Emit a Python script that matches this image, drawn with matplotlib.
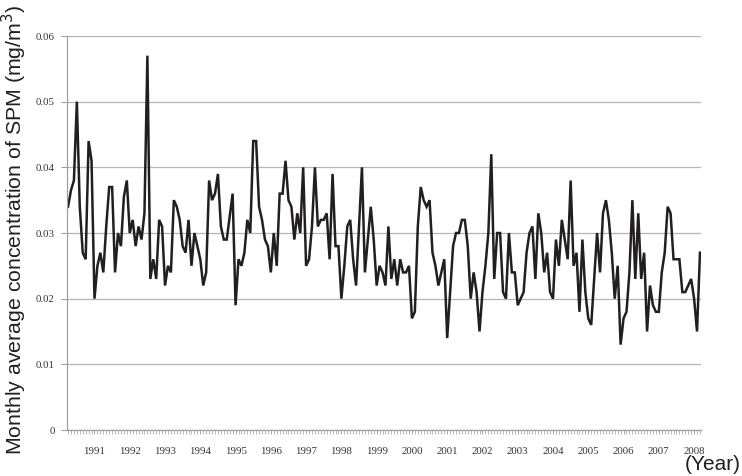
import matplotlib
matplotlib.use("Agg")
import matplotlib.pyplot as plt
import numpy as np

# Monthly SPM concentration (mg/m3), April 1990 - March 2008
spm = [
    0.034, 0.0365, 0.038, 0.050, 0.034, 0.027, 0.026, 0.044, 0.041, 0.020,
    0.025, 0.027, 0.024, 0.031, 0.037, 0.037, 0.024, 0.030, 0.028, 0.0355,
    0.038, 0.030, 0.032, 0.028, 0.031, 0.029, 0.033, 0.057, 0.023, 0.026,
    0.023, 0.032, 0.031, 0.022, 0.025, 0.024, 0.035, 0.034, 0.032, 0.028,
    0.027, 0.032, 0.025, 0.030, 0.028, 0.026, 0.022, 0.024, 0.038, 0.035,
    0.036, 0.039, 0.031, 0.029, 0.029, 0.0325, 0.036, 0.019, 0.026, 0.025,
    0.027, 0.032, 0.030, 0.044, 0.044, 0.034, 0.032, 0.029, 0.028, 0.024,
    0.030, 0.025, 0.036, 0.036, 0.041, 0.035, 0.034, 0.029, 0.033, 0.030,
    0.040, 0.025, 0.026, 0.031, 0.040, 0.031, 0.032, 0.032, 0.033, 0.026,
    0.039, 0.028, 0.028, 0.020, 0.025, 0.031, 0.032, 0.026, 0.022, 0.031,
    0.040, 0.024, 0.029, 0.034, 0.029, 0.022, 0.025, 0.024, 0.022, 0.031,
    0.023, 0.026, 0.022, 0.026, 0.024, 0.024, 0.025, 0.017, 0.018, 0.031,
    0.037, 0.035, 0.034, 0.035, 0.027, 0.025, 0.022, 0.024, 0.026, 0.014,
    0.021, 0.028, 0.030, 0.030, 0.032, 0.032, 0.028, 0.020, 0.024, 0.021,
    0.015, 0.021, 0.025, 0.030, 0.042, 0.023, 0.030, 0.030, 0.021, 0.020,
    0.030, 0.024, 0.024, 0.019, 0.020, 0.021, 0.027, 0.030, 0.031, 0.023,
    0.033, 0.030, 0.024, 0.027, 0.021, 0.020, 0.029, 0.025, 0.032, 0.029,
    0.026, 0.038, 0.025, 0.027, 0.018, 0.029, 0.021, 0.017, 0.016, 0.023,
    0.030, 0.024, 0.033, 0.035, 0.032, 0.027, 0.020, 0.025, 0.013, 0.017,
    0.018, 0.024, 0.035, 0.023, 0.033, 0.023, 0.027, 0.015, 0.022, 0.019,
    0.018, 0.018, 0.024, 0.027, 0.034, 0.033, 0.026, 0.026, 0.026, 0.021,
    0.021, 0.022, 0.023, 0.020, 0.015, 0.027,
]
years = [str(y) for y in range(1991, 2009)]
first_jan_index = 9  # January 1991 is the 10th month (data begins April 1990)
y_ticks = [0, 0.01, 0.02, 0.03, 0.04, 0.05, 0.06]
y_tick_labels = ["0", "0.01", "0.02", "0.03", "0.04", "0.05", "0.06"]

fig = plt.figure(figsize=(7.42, 4.76), dpi=100)
ax = fig.add_axes([67/742, 1-430/476, (701-67)/742, (430-36)/476])

x = np.arange(len(spm))
ax.plot(x, spm, color="#231f20", linewidth=1.8, solid_joinstyle="miter")

ax.set_xlim(-0.35, len(spm) - 1 + 0.35)
ax.set_ylim(0, 0.06)

ax.set_yticks(y_ticks)
ax.set_yticklabels(y_tick_labels, fontfamily="Liberation Serif", fontsize=7.8, color="#333333")
ax.yaxis.grid(True, color="#b4b4b4", linewidth=0.9)
ax.set_axisbelow(True)

ax.set_xticks([first_jan_index + 12*k for k in range(len(years))])
ax.set_xticklabels(years, fontfamily="Liberation Serif", fontsize=7.8, color="#333333")
ax.set_xticks(x, minor=True)
ax.tick_params(axis="x", which="major", length=3, width=0.6, color="#999999", pad=9)
ax.tick_params(axis="x", which="minor", length=3, width=0.5, color="#999999")
ax.tick_params(axis="y", which="major", length=4, width=0.7, color="#999999", pad=5)

for s in ["top", "right"]:
    ax.spines[s].set_visible(False)
for s in ["left", "bottom"]:
    ax.spines[s].set_color("#a0a0a0")
    ax.spines[s].set_linewidth(0.9)

fig.text(14/742, 1-230/476, "Monthly average concentration of SPM (mg/m$^3$)",
         rotation=90, ha="center", va="center", fontfamily="Liberation Sans",
         fontsize=15.3, color="#231f20")
fig.text(741/742, 1-465/476, "(Year)", ha="right", va="center",
         fontfamily="Liberation Sans", fontsize=15, color="#231f20")

fig.savefig("out.png", dpi=100, facecolor="white")
